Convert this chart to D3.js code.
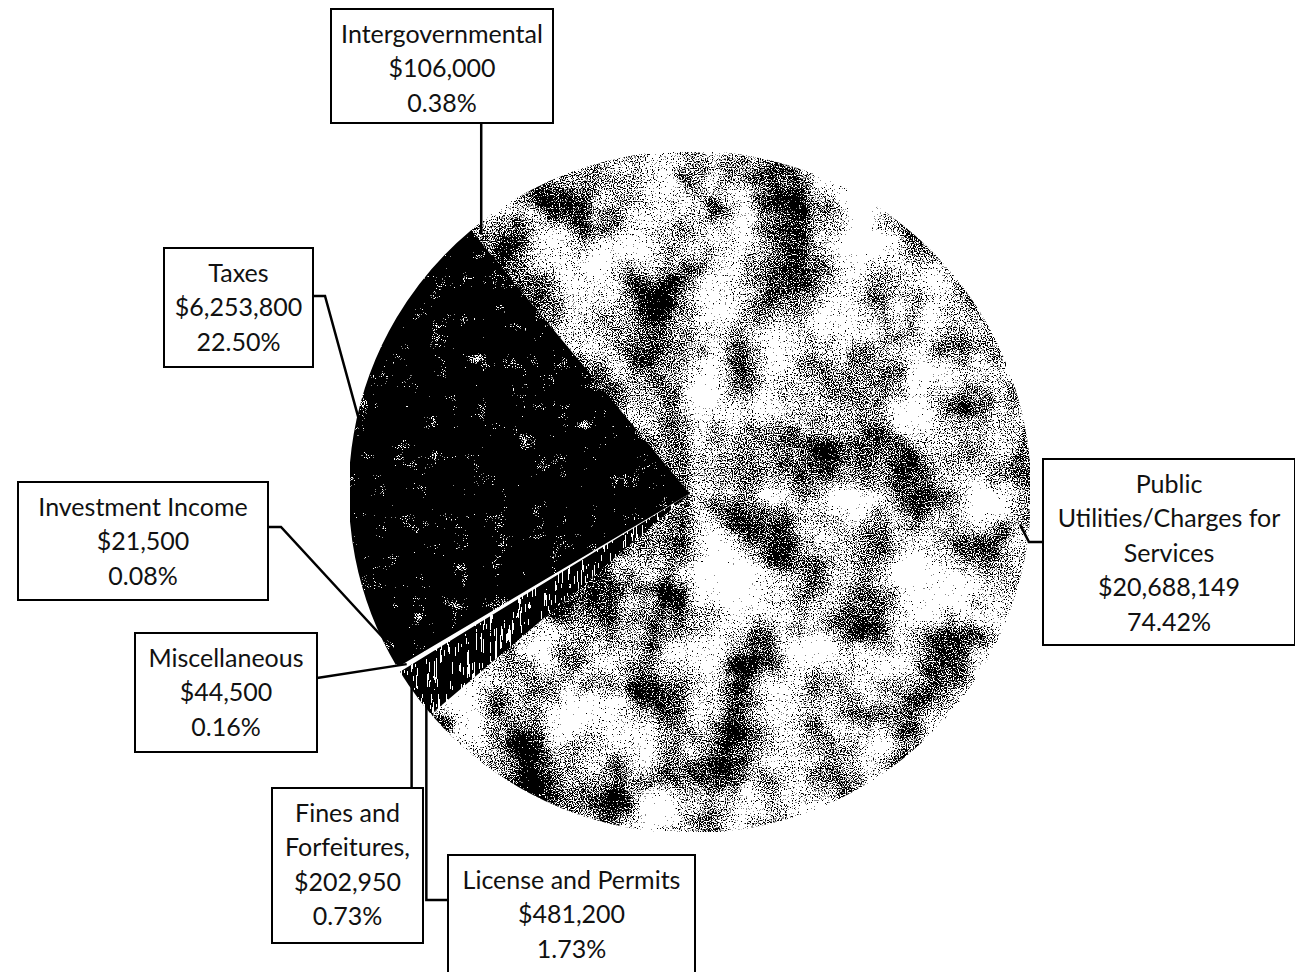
<!DOCTYPE html>
<html lang="en">
<head>
    <meta charset="UTF-8">
    <title>Revenue sources pie</title>
    <script src="https://cdn.jsdelivr.net/npm/d3@7/dist/d3.min.js"></script>
    <style>
        body { margin: 0; background: #fff; }
        text { font-family: Lato, "Open Sans", sans-serif; fill: #111; }
    </style>
</head>
<body>
<div id="mainContent"></div>
<script>
    let main = "#mainContent";
    const width = 1295, height = 972;

    // data, in the order the slices run clockwise
    let categories = ["Public Utilities/Charges for Services", "License and Permits", "Fines and Forfeitures,",
        "Miscellaneous", "Investment Income", "Taxes", "Intergovernmental"];
    let amounts = [20688149, 481200, 202950, 44500, 21500, 6253800, 106000];
    // how each label is broken over lines
    let labelLines = [["Public", "Utilities/Charges for", "Services"], ["License and Permits"], ["Fines and", "Forfeitures,"],
        ["Miscellaneous"], ["Investment Income"], ["Taxes"], ["Intergovernmental"]];

    // pie geometry
    const cx = 690, cy = 492, radius = 340;
    const startDeg = -38.35;

    // label boxes: x, y, w, h and how the leader leaves the box
    let boxes = [
        {x: 1043, y: 459, w: 252, h: 186, side: "left", ay: 542, stub: 14},
        {x: 448, y: 855, w: 247, h: 130, side: "left", ay: 900, stub: 0},
        {x: 272, y: 788, w: 151, h: 155, side: "top"},
        {x: 135, y: 633, w: 182, h: 119, side: "right", ay: 678, stub: 0},
        {x: 18, y: 482, w: 250, h: 118, side: "right", ay: 527, stub: 13},
        {x: 164, y: 248, w: 149, h: 119, side: "right", ay: 296, stub: 12},
        {x: 331, y: 9, w: 222, h: 114, side: "bottom"}
    ];
    // fill style per slice: a texture filter name or a plain colour
    let fills = ["granite", "weave", "weave", "#ffffff", "#ffffff", "dark", "granite"];

    const total = d3.sum(amounts);
    const money = d3.format("$,");
    const pct = d3.format(".2%");

    let svg = d3.select(main)
        .append("svg")
        .attr("width", width)
        .attr("height", height);

    let defs = svg.append("defs");

    // lookup table: black below lo, grey between lo and hi, white above hi
    function steps(lo, hi) {
        return d3.range(100).map(k => k / 100 < lo ? 0 : (k / 100 < hi ? 0.55 : 1)).join(" ");
    }

    // mottled stone fill, dithered to black and white like the print
    function stoneFilter(id, lowFreq, highFreq, wLow, wHigh, table, seed) {
        let f = defs.append("filter").attr("id", id)
            .attr("x", 0).attr("y", 0).attr("width", 1).attr("height", 1)
            .attr("color-interpolation-filters", "sRGB");
        f.append("feTurbulence").attr("type", "fractalNoise").attr("baseFrequency", lowFreq)
            .attr("numOctaves", 4).attr("seed", seed).attr("result", "coarse");
        f.append("feTurbulence").attr("type", "fractalNoise").attr("baseFrequency", highFreq)
            .attr("numOctaves", 1).attr("seed", seed + 5).attr("result", "fine");
        f.append("feComposite").attr("in", "coarse").attr("in2", "fine").attr("operator", "arithmetic")
            .attr("k2", wLow).attr("k3", wHigh).attr("result", "mix");
        f.append("feColorMatrix").attr("in", "mix").attr("type", "matrix")
            .attr("values", "1 0 0 0 0  1 0 0 0 0  1 0 0 0 0  0 0 0 0 1").attr("result", "grey");
        let ct = f.append("feComponentTransfer").attr("in", "grey").attr("result", "dots");
        ["feFuncR", "feFuncG", "feFuncB"].forEach(fn => {
            ct.append(fn).attr("type", "discrete").attr("tableValues", table);
        });
        f.append("feComposite").attr("in", "dots").attr("in2", "SourceGraphic").attr("operator", "in");
    }

    stoneFilter("granite", "0.015", "0.85", 0.45, 0.55, steps(0.455, 0.49), 3);
    stoneFilter("dark", "0.05", "0.9", 0.45, 0.55, steps(0.66, 0.68), 11);
    stoneFilter("weave", "0.4 0.03", "0.9 0.1", 0.55, 0.45, steps(0.6, 0.6), 5);

    let g = svg.append("g")
        .attr("transform", "translate(" + cx + "," + cy + ")");

    const pie = d3.pie()
        .sort(null)
        .value(d => d)
        .startAngle(startDeg * Math.PI / 180)
        .endAngle(startDeg * Math.PI / 180 + 2 * Math.PI);

    const arcs = pie(amounts);

    const arcGen = d3.arc()
        .innerRadius(0)
        .outerRadius(radius);

    // where the leader lines touch the slices
    const pointArc = d3.arc()
        .innerRadius(radius * 0.975)
        .outerRadius(radius * 0.975);

    const isTexture = f => !f.startsWith("#");

    g.selectAll(".slice")
        .data(arcs).enter()
        .append("path")
        .attr("class", "slice")
        .attr("d", arcGen)
        .attr("fill", (d, i) => isTexture(fills[i]) ? "#000" : fills[i])
        .attr("filter", (d, i) => isTexture(fills[i]) ? "url(#" + fills[i] + ")" : null)
        .attr("stroke", "#fff")
        .attr("stroke-width", 2.5);

    // leader lines
    arcs.forEach((d, i) => {
        let c = pointArc.centroid(d);
        let px = cx + c[0], py = cy + c[1];
        let b = boxes[i];
        let pts;
        if (b.side === "left") {
            pts = [[b.x, b.ay], [b.stub ? b.x - b.stub : px, b.ay], [px, py]];
        } else if (b.side === "right") {
            pts = [[b.x + b.w, b.ay], [b.x + b.w + b.stub, b.ay], [px, py]];
        } else if (b.side === "top") {
            pts = [[px, b.y], [px, py]];
        } else {
            pts = [[px, b.y + b.h], [px, py]];
        }
        svg.append("path")
            .attr("d", d3.line()(pts))
            .attr("fill", "none")
            .attr("stroke", "#000")
            .attr("stroke-width", 2.5);
    });

    // label boxes
    arcs.forEach((d, i) => {
        let b = boxes[i];
        let lab = svg.append("g").attr("class", "label");
        lab.append("rect")
            .attr("x", b.x).attr("y", b.y)
            .attr("width", b.w).attr("height", b.h)
            .attr("fill", "#fff")
            .attr("stroke", "#000")
            .attr("stroke-width", 2);
        let lines = labelLines[i].concat([money(amounts[i]), pct(amounts[i] / total)]);
        lab.selectAll("text")
            .data(lines).enter()
            .append("text")
            .attr("x", b.x + b.w / 2)
            .attr("y", (t, j) => b.y + 25 + j * 34.5)
            .attr("dy", "0.35em")
            .attr("text-anchor", "middle")
            .attr("font-size", 25)
            .text(t => t);
    });
</script>
</body>
</html>
